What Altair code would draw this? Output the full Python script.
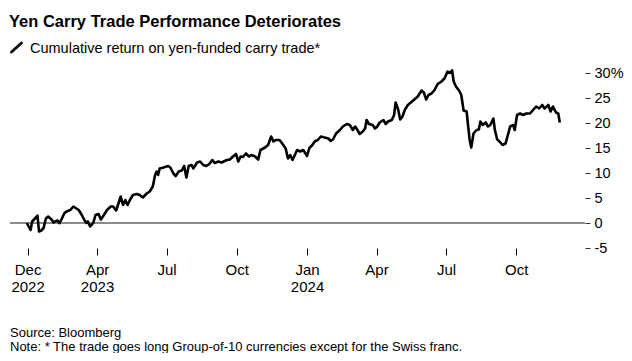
import altair as alt
import pandas as pd

# Cumulative return (%) on yen-funded carry trade
dates = [
    "2022-12-30", "2023-01-04", "2023-01-06", "2023-01-11", "2023-01-13", "2023-01-15", "2023-01-18", "2023-01-21", "2023-01-24", "2023-01-27",
    "2023-02-01", "2023-02-03", "2023-02-05", "2023-02-08", "2023-02-11", "2023-02-14", "2023-02-17", "2023-02-20", "2023-02-25",
    "2023-03-01", "2023-03-04", "2023-03-08", "2023-03-12", "2023-03-15", "2023-03-18", "2023-03-20", "2023-03-23", "2023-03-27", "2023-03-30",
    "2023-04-03", "2023-04-06", "2023-04-10", "2023-04-14", "2023-04-19", "2023-04-22", "2023-04-26", "2023-04-29",
    "2023-05-02", "2023-05-05", "2023-05-08", "2023-05-11", "2023-05-14", "2023-05-18", "2023-05-23", "2023-05-27", "2023-05-31",
    "2023-06-05", "2023-06-09", "2023-06-13", "2023-06-16", "2023-06-18", "2023-06-20", "2023-06-22", "2023-06-27",
    "2023-07-03", "2023-07-06", "2023-07-10", "2023-07-13", "2023-07-17", "2023-07-21", "2023-07-24", "2023-07-27", "2023-07-30",
    "2023-08-03", "2023-08-05", "2023-08-10", "2023-08-14", "2023-08-18", "2023-08-22", "2023-08-26", "2023-08-30",
    "2023-09-02", "2023-09-07", "2023-09-11", "2023-09-18", "2023-09-22", "2023-09-26", "2023-09-30",
    "2023-10-03", "2023-10-06", "2023-10-09", "2023-10-13", "2023-10-17", "2023-10-20", "2023-10-25", "2023-10-29",
    "2023-11-01", "2023-11-07", "2023-11-11", "2023-11-15", "2023-11-18", "2023-11-21", "2023-11-26", "2023-11-30",
    "2023-12-04", "2023-12-07", "2023-12-10", "2023-12-13", "2023-12-16", "2023-12-19", "2023-12-23", "2023-12-27", "2023-12-30",
    "2024-01-01", "2024-01-04", "2024-01-08", "2024-01-11", "2024-01-15", "2024-01-19", "2024-01-24", "2024-01-29",
    "2024-02-01", "2024-02-04", "2024-02-08", "2024-02-13", "2024-02-17", "2024-02-22", "2024-02-26",
    "2024-03-01", "2024-03-04", "2024-03-07", "2024-03-10", "2024-03-14", "2024-03-17", "2024-03-19", "2024-03-22", "2024-03-27", "2024-03-30",
    "2024-04-02", "2024-04-05", "2024-04-10", "2024-04-13", "2024-04-16", "2024-04-21", "2024-04-24", "2024-04-26", "2024-04-29",
    "2024-05-02", "2024-05-05", "2024-05-08", "2024-05-12", "2024-05-19", "2024-05-25", "2024-05-30",
    "2024-06-02", "2024-06-05", "2024-06-08", "2024-06-12", "2024-06-16", "2024-06-20", "2024-06-25", "2024-06-29",
    "2024-07-03", "2024-07-06", "2024-07-09", "2024-07-11", "2024-07-14", "2024-07-18", "2024-07-21", "2024-07-24", "2024-07-28", "2024-07-30",
    "2024-08-01", "2024-08-03", "2024-08-06", "2024-08-10", "2024-08-13", "2024-08-15", "2024-08-18", "2024-08-22", "2024-08-25", "2024-08-28",
    "2024-09-01", "2024-09-03", "2024-09-06", "2024-09-09", "2024-09-13", "2024-09-17", "2024-09-20", "2024-09-23", "2024-09-27", "2024-09-29",
    "2024-10-02", "2024-10-06", "2024-10-10", "2024-10-14", "2024-10-19", "2024-10-23", "2024-10-27", "2024-10-31",
    "2024-11-04", "2024-11-07", "2024-11-12", "2024-11-15", "2024-11-18", "2024-11-22", "2024-11-25", "2024-11-27",
]

values_2023 = [
    0.0, -1.4, 0.3, 1.1, 1.5, -1.7, -1.5, -1.0, 0.9, 1.3,
    0.6, 0.1, 0.3, 0.5, 0.0, 0.9, 1.9, 2.3, 2.6,
    3.3, 3.0, 2.6, 1.6, 0.7, 0.0, 0.3, -0.7, 0.0, 1.6,
    1.8, 0.7, 1.6, 2.6, 3.3, 3.3, 2.5, 3.9,
    5.3, 3.6, 4.6, 3.6, 4.6, 5.6, 5.8, 5.6, 5.1,
    5.9, 6.3, 7.3, 9.6, 10.3, 9.6, 10.9, 11.1,
    11.4, 11.1, 9.9, 9.4, 10.3, 10.5, 11.4, 9.1, 11.4,
    11.6, 10.9, 12.1, 12.3, 11.6, 11.4, 11.8, 12.6,
    12.0, 12.3, 12.1, 12.6, 12.7, 13.3, 13.8,
    12.3, 13.3, 13.2, 13.9, 13.3, 13.6, 13.3, 12.7,
    14.6, 15.1, 15.6, 17.3, 16.3, 16.6, 16.6, 15.8,
    14.9, 12.9, 13.6, 12.6, 13.6, 14.6, 14.3, 14.6, 13.9,
]
values_2024 = [
    13.4, 15.0, 15.6, 16.3, 16.6, 17.3, 17.1, 16.9,
    16.4, 16.7, 17.9, 18.6, 19.3, 19.8, 19.6,
    18.6, 19.3, 18.6, 17.8, 18.3, 18.9, 20.6, 19.8, 19.6, 18.9,
    19.3, 20.1, 20.6, 19.8, 20.3, 20.6, 21.6, 24.1, 22.9,
    20.7, 21.3, 22.6, 23.6, 24.5, 25.3, 26.5,
    26.1, 24.7, 25.6, 25.9, 26.6, 27.8, 28.3, 28.9,
    30.3, 30.0, 30.5, 28.3, 27.3, 26.5, 25.6, 22.5, 22.3, 19.3,
    16.6, 15.1, 17.9, 18.6, 18.7, 20.3, 19.6, 20.1, 19.3, 19.6,
    20.9, 18.6, 16.7, 16.3, 15.6, 15.9, 17.6, 19.3, 19.6, 18.6,
    21.6, 21.9, 21.6, 21.9, 21.9, 22.6, 23.3, 22.9,
    23.6, 22.9, 23.6, 22.3, 23.3, 22.1, 21.9, 20.1,
]
values = values_2023 + values_2024

y_ticks = [-5, 0, 5, 10, 15, 20, 25, 30]

title_text = "Yen Carry Trade Performance Deteriorates"
subtitle_text = "Cumulative return on yen-funded carry trade*"
source_text = "Source: Bloomberg"
note_text = "Note: * The trade goes long Group-of-10 currencies except for the Swiss franc."

assert len(dates) == len(values)
df = pd.DataFrame({"date": dates, "ret": values})

FONT = "Liberation Sans"

x_scale = alt.Scale(domain=[alt.DateTime(year=2022, month=12, date=8),
                            alt.DateTime(year=2024, month=12, date=30)])
y_scale = alt.Scale(domain=[-5, 30], nice=False, zero=False)

tick_dates = [
    alt.DateTime(year=2022, month=12, date=31),
    alt.DateTime(year=2023, month=4, date=1),
    alt.DateTime(year=2023, month=7, date=1),
    alt.DateTime(year=2023, month=10, date=1),
    alt.DateTime(year=2024, month=1, date=1),
    alt.DateTime(year=2024, month=4, date=1),
    alt.DateTime(year=2024, month=7, date=1),
    alt.DateTime(year=2024, month=10, date=1),
]

x_label_expr = (
    "[timeFormat(datum.value, '%b'), "
    "(month(datum.value) == 11 || month(datum.value) == 0 || "
    "(month(datum.value) == 3 && year(datum.value) == 2023)) ? timeFormat(datum.value, '%Y') : '']"
)

x_axis = alt.Axis(
    title=None, values=tick_dates, labelExpr=x_label_expr,
    domain=False, grid=False, ticks=True, tickSize=7, tickColor="#000", tickWidth=1,
    labelFont=FONT, labelFontSize=15, labelColor="#000", labelPadding=7,
    labelLineHeight=17.7, labelFlush=False, labelOverlap=False, labelBound=False,
)
y_axis = alt.Axis(
    title=None, orient="right", values=y_ticks,
    labelExpr="datum.value == 30 ? '30%' : toString(datum.value)",
    domain=False, grid=False, ticks=True, tickSize=5, tickColor="#333", tickWidth=1,
    labelFont=FONT, labelFontSize=14.5, labelColor="#000", labelPadding=4,
    labelOverlap=False, labelFlush=False, labelBound=False,
)

line = alt.Chart(df).mark_line(color="#000", strokeWidth=2.6, strokeJoin="round").encode(
    x=alt.X("date:T", scale=x_scale, axis=x_axis),
    y=alt.Y("ret:Q", scale=y_scale, axis=y_axis),
)

zero = alt.Chart(pd.DataFrame({"ret": [0]})).mark_rule(color="#666", strokeWidth=1.3).encode(
    y=alt.Y("ret:Q", scale=y_scale, axis=y_axis)
)

one = alt.Data(values=[{"k": 1}])

def text_layer(txt, x, y, size, weight="normal", font=FONT):
    return alt.Chart(one).mark_text(
        align="left", baseline="alphabetic", font=font, fontSize=size,
        fontWeight=weight, color="#000"
    ).encode(x=alt.value(x), y=alt.value(y), text=alt.value(txt))

title = text_layer(title_text, -1, -46, 16.5, "bold")
subtitle = text_layer(subtitle_text, 20, -20, 14.5)
source = text_layer(source_text, 0, 263.5, 13)
note = text_layer(note_text, 0, 278, 13)

icon = alt.Chart(one).mark_rule(color="#111", strokeWidth=3, strokeCap="round").encode(
    x=alt.value(1.5), x2=alt.value(11.5), y=alt.value(-21), y2=alt.value(-30)
)

chart = alt.layer(zero, line, title, subtitle, icon, source, note).properties(
    width=575, height=175,
    autosize=alt.AutoSizeParams(type="none"),
    padding={"left": 2, "top": 65, "right": 39, "bottom": 105},
).configure_view(stroke=None).configure_axis(labelOverlap=False)

chart.save("out.html", embed_options={"renderer": "svg", "actions": False})
